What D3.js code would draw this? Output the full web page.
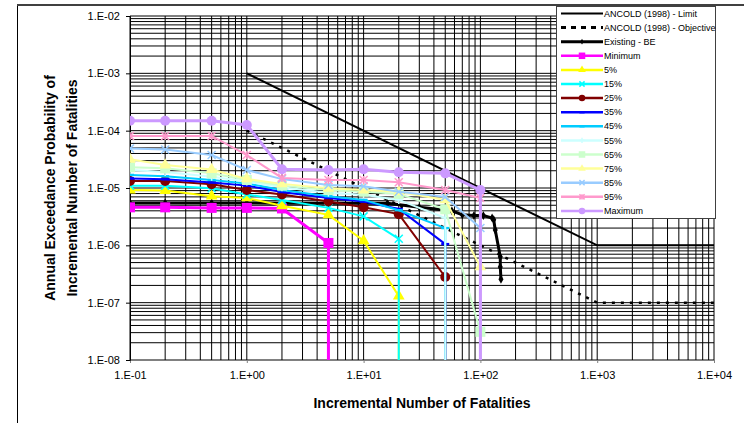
<!DOCTYPE html>
<html>
<head>
<meta charset="utf-8">
<script src="https://cdn.jsdelivr.net/npm/d3@7"></script>
<style>
  body { margin: 0; background: #fff; }
  svg { display: block; font-family: Arial, "Liberation Sans", sans-serif; }
</style>
</head>
<body>
<script>
// fatalities (x) shared by the percentile curves
const fatalities = [0.1, 0.2, 0.5, 1, 2, 5, 10, 20, 50, 100];

// annual exceedance probability per curve; each curve falls off the chart at its last point
const minimum = [4.6e-6, 4.6e-6, 4.5e-6, 4.5e-6, 4.4e-6, 1.1e-6];
const p5 = [9.2e-6, 9.0e-6, 7.2e-6, 6.7e-6, 4.9e-6, 3.4e-6, 1.2e-6, 1.3e-7];
const p15 = [1.1e-5, 1.1e-5, 9.9e-6, 7.7e-6, 6.2e-6, 4.5e-6, 3.2e-6, 1.3e-6];
const p25 = [1.32e-5, 1.32e-5, 1.16e-5, 9.2e-6, 7.7e-6, 5.8e-6, 4.6e-6, 3.5e-6, 2.8e-7];
const p35 = [1.47e-5, 1.42e-5, 1.25e-5, 1.1e-5, 8.5e-6, 6.7e-6, 5.8e-6, 4.3e-6, 1.05e-6];
const p45 = [1.69e-5, 1.6e-5, 1.38e-5, 1.2e-5, 9.2e-6, 7.2e-6, 6.2e-6, 4.1e-6, 2.0e-6];
const p55 = [2.06e-5, 1.9e-5, 1.57e-5, 1.3e-5, 1.03e-5, 8.3e-6, 7.6e-6, 6.2e-6, 3.0e-6];
const p65 = [2.3e-5, 2.2e-5, 1.8e-5, 1.38e-5, 1.1e-5, 9.2e-6, 8.6e-6, 7.9e-6, 4.25e-6, 3.1e-8];
const p75 = [3.16e-5, 2.52e-5, 2.1e-5, 1.44e-5, 1.18e-5, 9.9e-6, 9.2e-6, 8.6e-6, 6.2e-6, 4.2e-7];
const p85 = [4.9e-5, 4.7e-5, 3.76e-5, 2.06e-5, 1.43e-5, 1.13e-5, 1.07e-5, 8.6e-6, 7.0e-6, 2.0e-6];
const p95 = [8.1e-5, 8.1e-5, 8.1e-5, 3.76e-5, 1.5e-5, 1.38e-5, 1.38e-5, 1.26e-5, 9.2e-6, 6.7e-6];
const maximum = [1.49e-4, 1.49e-4, 1.49e-4, 1.26e-4, 2.12e-5, 2.06e-5, 2.12e-5, 1.88e-5, 1.8e-5, 9.2e-6];

// existing best estimate curve
const existingX = [0.1, 0.2, 0.5, 1, 2, 5, 10, 16, 30, 57, 70, 88, 106, 126, 130, 134, 148, 148, 150];
const existingY = [5.5e-6, 5.5e-6, 5.5e-6, 5.5e-6, 5.4e-6, 5.4e-6, 5.4e-6, 5.4e-6, 4.6e-6, 4.0e-6, 3.4e-6, 3.3e-6, 3.3e-6, 3.0e-6, 2.8e-6, 1.85e-6, 6.3e-7, 4.2e-7, 2.55e-7];

// ANCOLD (1998) guideline lines
const ancoldX = [1, 1000, 10000];
const ancoldLimit = [1e-3, 1e-6, 1e-6];
const ancoldObjective = [1e-4, 1e-7, 1e-7];

const xTicks = [0.1, 1, 10, 100, 1000, 10000];
const yTicks = [1e-2, 1e-3, 1e-4, 1e-5, 1e-6, 1e-7, 1e-8];

const percentiles = [
    { name: "Minimum", values: minimum, color: "#FF00FF", marker: "square", width: 3 },
    { name: "5%", values: p5, color: "#FFFF00", marker: "triangle", width: 2 },
    { name: "15%", values: p15, color: "#00FFFF", marker: "x", width: 2 },
    { name: "25%", values: p25, color: "#800000", marker: "circle", width: 2 },
    { name: "35%", values: p35, color: "#0000FF", marker: "dash", width: 2 },
    { name: "45%", values: p45, color: "#00CCFF", marker: "dash", width: 2 },
    { name: "55%", values: p55, color: "#CCFFFF", marker: "plus", width: 2 },
    { name: "65%", values: p65, color: "#CCFFCC", marker: "square", width: 2 },
    { name: "75%", values: p75, color: "#FFFF99", marker: "triangle", width: 2 },
    { name: "85%", values: p85, color: "#99CCFF", marker: "x", width: 2 },
    { name: "95%", values: p95, color: "#FF99CC", marker: "asterisk", width: 2 },
    { name: "Maximum", values: maximum, color: "#CC99FF", marker: "circle", width: 3 }
];

const W = 744, H = 423;
const margin = { left: 130, top: 16, right: 30, bottom: 63 };

const svg = d3.select("body").append("svg")
    .attr("width", W)
    .attr("height", H);

// chart area border (only left and top are inside the picture)
svg.append("path").attr("d", `M17.5,${H} V5`).attr("stroke", "#000").attr("fill", "none");
svg.append("path").attr("d", `M17,5 H${W}`).attr("stroke", "#404040").attr("stroke-width", 2);

const x = d3.scaleLog().domain([0.1, 10000]).range([margin.left, W - margin.right]);
const y = d3.scaleLog().domain([1e-8, 1e-2]).range([H - margin.bottom, margin.top]);

const expLabel = v => {
    const e = Math.round(Math.log10(v));
    return "1.E" + (e < 0 ? "-" : "+") + String(Math.abs(e)).padStart(2, "0");
};

// grid: every 1..9 of each decade
const grid = svg.append("g");
const xGrid = [], yGrid = [];
for (let e = -1; e <= 4; e++) for (let m = 1; m <= 9; m++) { const v = m * Math.pow(10, e); if (v <= 10000) xGrid.push(v); }
for (let e = -8; e <= -2; e++) for (let m = 1; m <= 9; m++) { const v = m * Math.pow(10, e); if (v <= 1e-2 * 1.0001) yGrid.push(v); }

grid.selectAll(".gx").data(xGrid).enter().append("line")
    .attr("x1", d => x(d)).attr("x2", d => x(d))
    .attr("y1", y(1e-8)).attr("y2", y(1e-2))
    .attr("stroke", "#000").attr("stroke-width", 1);
grid.selectAll(".gy").data(yGrid).enter().append("line")
    .attr("y1", d => y(d)).attr("y2", d => y(d))
    .attr("x1", x(0.1)).attr("x2", x(10000))
    .attr("stroke", "#000").attr("stroke-width", 1);

// axes
const xAxis = svg.append("g")
    .attr("transform", `translate(0,${y(1e-8)})`)
    .call(d3.axisBottom(x).tickValues(xTicks).tickFormat(expLabel).tickSize(3).tickPadding(8));
const yAxis = svg.append("g")
    .attr("transform", `translate(${x(0.1)},0)`)
    .call(d3.axisLeft(y).tickValues(yTicks).tickFormat(expLabel).tickSize(4).tickPadding(6));
xAxis.select(".domain").attr("stroke", "#808080");
xAxis.selectAll(".tick line").attr("stroke", "#808080");
yAxis.select(".domain").attr("stroke", "#000");
[xAxis, yAxis].forEach(a => a.selectAll("text").attr("font-size", 11).attr("font-family", "Arial, 'Liberation Sans', sans-serif").attr("fill", "#000"));

// axis titles
svg.append("text")
    .attr("x", (x(0.1) + x(10000)) / 2).attr("y", 408)
    .attr("text-anchor", "middle").attr("font-size", 14).attr("font-weight", "bold")
    .text("Incremental Number of Fatalities");
const yt = svg.append("text")
    .attr("transform", `translate(0,${(y(1e-2) + y(1e-8)) / 2}) rotate(-90)`)
    .attr("text-anchor", "middle").attr("font-size", 14).attr("font-weight", "bold");
yt.append("tspan").attr("x", 0).attr("y", 55).text("Annual Exceedance Probability of");
yt.append("tspan").attr("x", 0).attr("y", 77).text("Incremental Number of Fatalities");

// plotting region
svg.append("clipPath").attr("id", "plot")
    .append("rect")
    .attr("x", x(0.1)).attr("y", y(1e-2))
    .attr("width", x(10000) - x(0.1)).attr("height", y(1e-8) - y(1e-2));
const plot = svg.append("g").attr("clip-path", "url(#plot)");

const line = d3.line().x(d => x(d[0])).y(d => y(d[1]));
const belowAxis = 1e-12;

function marker(g, type, color, cx, cy, big) {
    const s = big ? 1 : 0.65;
    if (type === "square") {
        g.append("rect").attr("x", cx - 5 * s).attr("y", cy - 5 * s).attr("width", 10 * s).attr("height", 10 * s).attr("fill", color);
    } else if (type === "triangle") {
        g.append("path").attr("transform", `translate(${cx},${cy})`)
            .attr("d", d3.symbol(d3.symbolTriangle, 60 * s * s)()).attr("fill", color);
    } else if (type === "circle") {
        g.append("circle").attr("cx", cx).attr("cy", cy).attr("r", 5 * s).attr("fill", color);
    } else if (type === "diamond") {
        g.append("path").attr("transform", `translate(${cx},${cy})`)
            .attr("d", d3.symbol(d3.symbolDiamond, 22 * s * s)()).attr("fill", color);
    } else if (type === "dash") {
        g.append("rect").attr("x", cx - 4 * s).attr("y", cy - 1.2).attr("width", 8 * s).attr("height", 2.4).attr("fill", color);
    } else {
        const r = 4 * s;
        const segs = [];
        if (type === "x" || type === "asterisk") segs.push([-r, -r, r, r], [-r, r, r, -r]);
        if (type === "plus" || type === "asterisk") segs.push([0, -r, 0, r]);
        if (type === "plus") segs.push([-r, 0, r, 0]);
        segs.forEach(sg => g.append("line")
            .attr("x1", cx + sg[0]).attr("y1", cy + sg[1]).attr("x2", cx + sg[2]).attr("y2", cy + sg[3])
            .attr("stroke", color).attr("stroke-width", 1.5));
    }
}

// ANCOLD lines
plot.append("path").datum(ancoldX.map((v, i) => [v, ancoldLimit[i]]))
    .attr("d", line).attr("fill", "none").attr("stroke", "#000").attr("stroke-width", 2);
plot.append("path").datum(ancoldX.map((v, i) => [v, ancoldObjective[i]]))
    .attr("d", line).attr("fill", "none").attr("stroke", "#000").attr("stroke-width", 2.5)
    .attr("stroke-dasharray", "3,6");

// existing best estimate
const existing = existingX.map((v, i) => [v, existingY[i]]);
plot.append("path").datum(existing)
    .attr("d", line).attr("fill", "none").attr("stroke", "#000").attr("stroke-width", 3);
existing.forEach(d => marker(plot, "diamond", "#000", x(d[0]), y(d[1]), true));

// percentile curves, each dropping off the bottom at its last point
percentiles.forEach(s => {
    const pts = s.values.map((v, i) => [fatalities[i], v]);
    const last = pts[pts.length - 1];
    plot.append("path").datum(pts.concat([[last[0], belowAxis]]))
        .attr("d", line).attr("fill", "none").attr("stroke", s.color).attr("stroke-width", s.width);
    pts.forEach(d => marker(plot, s.marker, s.color, x(d[0]), y(d[1]), true));
});

// legend
const legendItems = [
    { name: "ANCOLD (1998) - Limit", color: "#000", width: 2 },
    { name: "ANCOLD (1998) - Objective", color: "#000", width: 3, dash: "5,5" },
    { name: "Existing - BE", color: "#000", width: 3, marker: "diamond" }
].concat(percentiles.map(s => ({ name: s.name, color: s.color, width: 2.5, marker: s.marker })));

const legend = svg.append("g");
legend.append("rect")
    .attr("x", 556.5).attr("y", 6.5).attr("width", 159).attr("height", 212)
    .attr("fill", "#fff").attr("stroke", "#404040");
legendItems.forEach((d, i) => {
    const ly = 13.5 + i * 14.1;
    legend.append("line")
        .attr("x1", 561).attr("x2", 603).attr("y1", ly).attr("y2", ly)
        .attr("stroke", d.color).attr("stroke-width", d.width)
        .attr("stroke-dasharray", d.dash || null);
    if (d.marker) marker(legend, d.marker, d.color, 582, ly, false);
    legend.append("text")
        .attr("x", 604).attr("y", ly).attr("dy", "0.35em")
        .attr("font-size", 9).attr("fill", "#000")
        .text(d.name);
});
</script>
</body>
</html>
